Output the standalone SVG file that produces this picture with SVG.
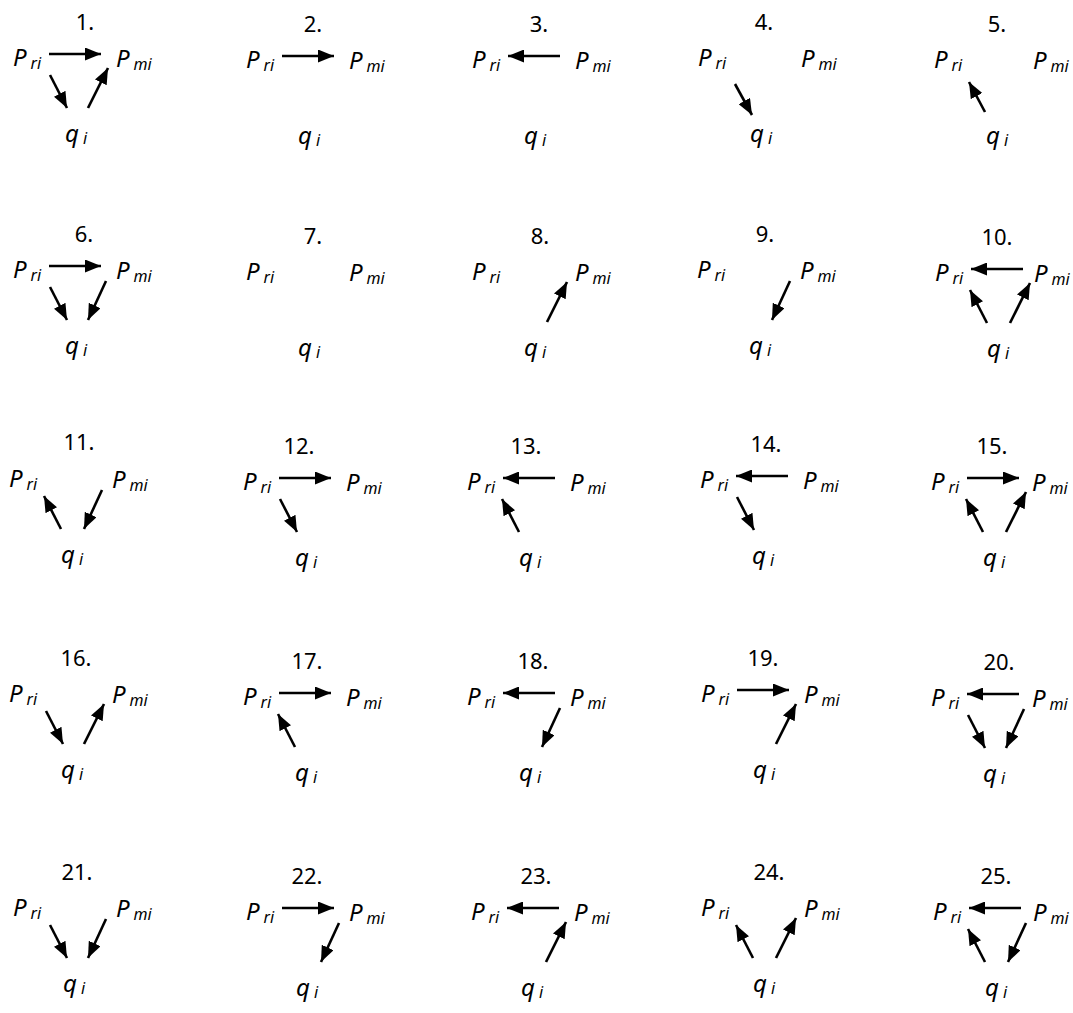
<svg xmlns="http://www.w3.org/2000/svg" xmlns:xlink="http://www.w3.org/1999/xlink" width="1073" height="1013" viewBox="0 0 1073 1013">
<style>
.lab{font-family:"Noto Sans",sans-serif;font-size:22px;text-anchor:middle;fill:#000}
.v{font-family:"Noto Sans",sans-serif;font-size:24px;font-style:italic;fill:#000}
.s{font-size:16px}
.c{stroke:#000;stroke-width:2.6;fill:none;marker-end:url(#ah)}
</style>
<defs>
<marker id="ah" markerUnits="userSpaceOnUse" markerWidth="16" markerHeight="13" refX="16" refY="6.5" orient="auto" viewBox="0 0 16 13"><path d="M0,0 L16,6.5 L0,13 z" fill="#000"/></marker>
<line id="hR" class="c" x1="35" y1="-12" x2="87" y2="-12"/>
<line id="hL" class="c" x1="87" y1="-12" x2="35" y2="-12"/>
<line id="rq" class="c" x1="36" y1="9" x2="53" y2="42"/>
<line id="qr" class="c" x1="51" y1="42" x2="34" y2="9"/>
<line id="mq" class="c" x1="92" y1="3" x2="74" y2="42"/>
<line id="qm" class="c" x1="74" y1="42" x2="94" y2="2"/>
</defs>
<rect width="1073" height="1013" fill="#fff"/>
<g id="labels">
<text class="lab" x="85" y="30">1.</text>
<text class="lab" x="313" y="32">2.</text>
<text class="lab" x="539" y="32">3.</text>
<text class="lab" x="764" y="30">4.</text>
<text class="lab" x="997" y="32">5.</text>
<text class="lab" x="84" y="242">6.</text>
<text class="lab" x="313" y="244">7.</text>
<text class="lab" x="540" y="244">8.</text>
<text class="lab" x="765" y="242">9.</text>
<text class="lab" x="997" y="245">10.</text>
<text class="lab" x="79" y="450">11.</text>
<text class="lab" x="299" y="454">12.</text>
<text class="lab" x="526" y="454">13.</text>
<text class="lab" x="766" y="452">14.</text>
<text class="lab" x="992" y="454">15.</text>
<text class="lab" x="76" y="666">16.</text>
<text class="lab" x="307" y="669">17.</text>
<text class="lab" x="533" y="669">18.</text>
<text class="lab" x="763" y="666">19.</text>
<text class="lab" x="999" y="670">20.</text>
<text class="lab" x="77" y="880">21.</text>
<text class="lab" x="307" y="884">22.</text>
<text class="lab" x="536" y="884">23.</text>
<text class="lab" x="769" y="880">24.</text>
<text class="lab" x="996" y="884">25.</text>
</g>
<g id="nodes">
<g id="n1-pr"><text class="v" x="13" y="66">P<tspan class="s" dx="4" dy="3">ri</tspan></text></g>
<g id="n1-pm"><text class="v" x="116" y="67">P<tspan class="s" dx="4" dy="3">mi</tspan></text></g>
<g id="n1-q"><text class="v" x="65" y="142">q<tspan class="s" dx="4" dy="2">i</tspan></text></g>
<g id="n2-pr"><text class="v" x="246" y="68">P<tspan class="s" dx="4" dy="3">ri</tspan></text></g>
<g id="n2-pm"><text class="v" x="349" y="69">P<tspan class="s" dx="4" dy="3">mi</tspan></text></g>
<g id="n2-q"><text class="v" x="298" y="144">q<tspan class="s" dx="4" dy="2">i</tspan></text></g>
<g id="n3-pr"><text class="v" x="472" y="68">P<tspan class="s" dx="4" dy="3">ri</tspan></text></g>
<g id="n3-pm"><text class="v" x="575" y="69">P<tspan class="s" dx="4" dy="3">mi</tspan></text></g>
<g id="n3-q"><text class="v" x="524" y="144">q<tspan class="s" dx="4" dy="2">i</tspan></text></g>
<g id="n4-pr"><text class="v" x="698" y="66">P<tspan class="s" dx="4" dy="3">ri</tspan></text></g>
<g id="n4-pm"><text class="v" x="801" y="67">P<tspan class="s" dx="4" dy="3">mi</tspan></text></g>
<g id="n4-q"><text class="v" x="750" y="142">q<tspan class="s" dx="4" dy="2">i</tspan></text></g>
<g id="n5-pr"><text class="v" x="934" y="68">P<tspan class="s" dx="4" dy="3">ri</tspan></text></g>
<g id="n5-pm"><text class="v" x="1033" y="69">P<tspan class="s" dx="4" dy="3">mi</tspan></text></g>
<g id="n5-q"><text class="v" x="986" y="144">q<tspan class="s" dx="4" dy="2">i</tspan></text></g>
<g id="n6-pr"><text class="v" x="13" y="278">P<tspan class="s" dx="4" dy="3">ri</tspan></text></g>
<g id="n6-pm"><text class="v" x="116" y="279">P<tspan class="s" dx="4" dy="3">mi</tspan></text></g>
<g id="n6-q"><text class="v" x="65" y="354">q<tspan class="s" dx="4" dy="2">i</tspan></text></g>
<g id="n7-pr"><text class="v" x="246" y="280">P<tspan class="s" dx="4" dy="3">ri</tspan></text></g>
<g id="n7-pm"><text class="v" x="349" y="281">P<tspan class="s" dx="4" dy="3">mi</tspan></text></g>
<g id="n7-q"><text class="v" x="298" y="356">q<tspan class="s" dx="4" dy="2">i</tspan></text></g>
<g id="n8-pr"><text class="v" x="472" y="280">P<tspan class="s" dx="4" dy="3">ri</tspan></text></g>
<g id="n8-pm"><text class="v" x="575" y="281">P<tspan class="s" dx="4" dy="3">mi</tspan></text></g>
<g id="n8-q"><text class="v" x="524" y="356">q<tspan class="s" dx="4" dy="2">i</tspan></text></g>
<g id="n9-pr"><text class="v" x="697" y="278">P<tspan class="s" dx="4" dy="3">ri</tspan></text></g>
<g id="n9-pm"><text class="v" x="800" y="279">P<tspan class="s" dx="4" dy="3">mi</tspan></text></g>
<g id="n9-q"><text class="v" x="749" y="354">q<tspan class="s" dx="4" dy="2">i</tspan></text></g>
<g id="n10-pr"><text class="v" x="935" y="281">P<tspan class="s" dx="4" dy="3">ri</tspan></text></g>
<g id="n10-pm"><text class="v" x="1034" y="282">P<tspan class="s" dx="4" dy="3">mi</tspan></text></g>
<g id="n10-q"><text class="v" x="987" y="357">q<tspan class="s" dx="4" dy="2">i</tspan></text></g>
<g id="n11-pr"><text class="v" x="9" y="487">P<tspan class="s" dx="4" dy="3">ri</tspan></text></g>
<g id="n11-pm"><text class="v" x="112" y="488">P<tspan class="s" dx="4" dy="3">mi</tspan></text></g>
<g id="n11-q"><text class="v" x="61" y="563">q<tspan class="s" dx="4" dy="2">i</tspan></text></g>
<g id="n12-pr"><text class="v" x="243" y="490">P<tspan class="s" dx="4" dy="3">ri</tspan></text></g>
<g id="n12-pm"><text class="v" x="346" y="491">P<tspan class="s" dx="4" dy="3">mi</tspan></text></g>
<g id="n12-q"><text class="v" x="295" y="566">q<tspan class="s" dx="4" dy="2">i</tspan></text></g>
<g id="n13-pr"><text class="v" x="467" y="490">P<tspan class="s" dx="4" dy="3">ri</tspan></text></g>
<g id="n13-pm"><text class="v" x="570" y="491">P<tspan class="s" dx="4" dy="3">mi</tspan></text></g>
<g id="n13-q"><text class="v" x="519" y="566">q<tspan class="s" dx="4" dy="2">i</tspan></text></g>
<g id="n14-pr"><text class="v" x="700" y="488">P<tspan class="s" dx="4" dy="3">ri</tspan></text></g>
<g id="n14-pm"><text class="v" x="803" y="489">P<tspan class="s" dx="4" dy="3">mi</tspan></text></g>
<g id="n14-q"><text class="v" x="752" y="564">q<tspan class="s" dx="4" dy="2">i</tspan></text></g>
<g id="n15-pr"><text class="v" x="931" y="490">P<tspan class="s" dx="4" dy="3">ri</tspan></text></g>
<g id="n15-pm"><text class="v" x="1032" y="491">P<tspan class="s" dx="4" dy="3">mi</tspan></text></g>
<g id="n15-q"><text class="v" x="983" y="566">q<tspan class="s" dx="4" dy="2">i</tspan></text></g>
<g id="n16-pr"><text class="v" x="9" y="702">P<tspan class="s" dx="4" dy="3">ri</tspan></text></g>
<g id="n16-pm"><text class="v" x="112" y="703">P<tspan class="s" dx="4" dy="3">mi</tspan></text></g>
<g id="n16-q"><text class="v" x="61" y="778">q<tspan class="s" dx="4" dy="2">i</tspan></text></g>
<g id="n17-pr"><text class="v" x="243" y="705">P<tspan class="s" dx="4" dy="3">ri</tspan></text></g>
<g id="n17-pm"><text class="v" x="346" y="706">P<tspan class="s" dx="4" dy="3">mi</tspan></text></g>
<g id="n17-q"><text class="v" x="295" y="781">q<tspan class="s" dx="4" dy="2">i</tspan></text></g>
<g id="n18-pr"><text class="v" x="467" y="705">P<tspan class="s" dx="4" dy="3">ri</tspan></text></g>
<g id="n18-pm"><text class="v" x="570" y="706">P<tspan class="s" dx="4" dy="3">mi</tspan></text></g>
<g id="n18-q"><text class="v" x="519" y="781">q<tspan class="s" dx="4" dy="2">i</tspan></text></g>
<g id="n19-pr"><text class="v" x="701" y="702">P<tspan class="s" dx="4" dy="3">ri</tspan></text></g>
<g id="n19-pm"><text class="v" x="804" y="703">P<tspan class="s" dx="4" dy="3">mi</tspan></text></g>
<g id="n19-q"><text class="v" x="753" y="778">q<tspan class="s" dx="4" dy="2">i</tspan></text></g>
<g id="n20-pr"><text class="v" x="931" y="706">P<tspan class="s" dx="4" dy="3">ri</tspan></text></g>
<g id="n20-pm"><text class="v" x="1032" y="707">P<tspan class="s" dx="4" dy="3">mi</tspan></text></g>
<g id="n20-q"><text class="v" x="983" y="782">q<tspan class="s" dx="4" dy="2">i</tspan></text></g>
<g id="n21-pr"><text class="v" x="13" y="916">P<tspan class="s" dx="4" dy="3">ri</tspan></text></g>
<g id="n21-pm"><text class="v" x="116" y="917">P<tspan class="s" dx="4" dy="3">mi</tspan></text></g>
<g id="n21-q"><text class="v" x="63" y="992">q<tspan class="s" dx="4" dy="2">i</tspan></text></g>
<g id="n22-pr"><text class="v" x="246" y="920">P<tspan class="s" dx="4" dy="3">ri</tspan></text></g>
<g id="n22-pm"><text class="v" x="349" y="921">P<tspan class="s" dx="4" dy="3">mi</tspan></text></g>
<g id="n22-q"><text class="v" x="296" y="996">q<tspan class="s" dx="4" dy="2">i</tspan></text></g>
<g id="n23-pr"><text class="v" x="471" y="920">P<tspan class="s" dx="4" dy="3">ri</tspan></text></g>
<g id="n23-pm"><text class="v" x="574" y="921">P<tspan class="s" dx="4" dy="3">mi</tspan></text></g>
<g id="n23-q"><text class="v" x="521" y="996">q<tspan class="s" dx="4" dy="2">i</tspan></text></g>
<g id="n24-pr"><text class="v" x="701" y="916">P<tspan class="s" dx="4" dy="3">ri</tspan></text></g>
<g id="n24-pm"><text class="v" x="804" y="917">P<tspan class="s" dx="4" dy="3">mi</tspan></text></g>
<g id="n24-q"><text class="v" x="753" y="992">q<tspan class="s" dx="4" dy="2">i</tspan></text></g>
<g id="n25-pr"><text class="v" x="933" y="920">P<tspan class="s" dx="4" dy="3">ri</tspan></text></g>
<g id="n25-pm"><text class="v" x="1033" y="921">P<tspan class="s" dx="4" dy="3">mi</tspan></text></g>
<g id="n25-q"><text class="v" x="985" y="996">q<tspan class="s" dx="4" dy="2">i</tspan></text></g>
</g>
<g id="connectors">
<use href="#hR" x="14" y="66"/><use href="#rq" x="14" y="66"/><use href="#qm" x="14" y="66"/>
<use href="#hR" x="247" y="68"/>
<use href="#hL" x="473" y="68"/>
<line class="c" x1="735" y1="84" x2="752" y2="115"/>
<line class="c" x1="985" y1="112" x2="969" y2="82"/>
<use href="#hR" x="14" y="278"/><use href="#rq" x="14" y="278"/><use href="#mq" x="14" y="278"/>
<use href="#qm" x="473" y="280"/>
<use href="#mq" x="698" y="278"/>
<use href="#hL" x="936" y="281"/><use href="#qr" x="936" y="281"/><use href="#qm" x="936" y="281"/>
<use href="#qr" x="10" y="487"/><use href="#mq" x="10" y="487"/>
<use href="#hR" x="244" y="490"/><use href="#rq" x="244" y="490"/>
<use href="#hL" x="468" y="490"/><use href="#qr" x="468" y="490"/>
<use href="#hL" x="701" y="488"/><use href="#rq" x="701" y="488"/>
<use href="#hR" x="932" y="490"/><use href="#qr" x="932" y="490"/><use href="#qm" x="932" y="490"/>
<use href="#rq" x="10" y="702"/><use href="#qm" x="10" y="702"/>
<use href="#hR" x="244" y="705"/><use href="#qr" x="244" y="705"/>
<use href="#hL" x="468" y="705"/><use href="#mq" x="468" y="705"/>
<use href="#hR" x="702" y="702"/><use href="#qm" x="702" y="702"/>
<use href="#hL" x="932" y="706"/><use href="#rq" x="932" y="706"/><use href="#mq" x="932" y="706"/>
<use href="#rq" x="14" y="916"/><use href="#mq" x="14" y="916"/>
<use href="#hR" x="247" y="920"/><use href="#mq" x="247" y="920"/>
<use href="#hL" x="472" y="920"/><use href="#qm" x="472" y="920"/>
<use href="#qr" x="702" y="916"/><use href="#qm" x="702" y="916"/>
<use href="#hL" x="934" y="920"/><use href="#qr" x="934" y="920"/><use href="#mq" x="934" y="920"/>
</g>
</svg>
